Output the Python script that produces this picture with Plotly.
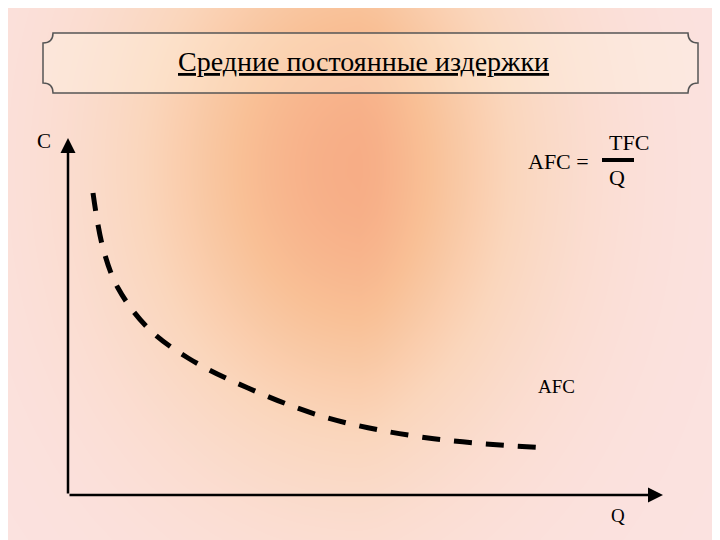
import numpy as np
import plotly.graph_objects as go

# AFC curve (units: pixels from the origin)
q_vals = [25, 35, 50, 80, 120, 180, 260, 360, 480]
afc_vals = [302, 247, 207, 167, 137, 107, 77, 57, 47]

title_text = "Средние постоянные издержки"
serif = "Liberation Serif, DejaVu Serif, serif"

fig = go.Figure()

# warm slide background (decoration only), drawn in pixel frame x/y
gx = np.linspace(0, 720, 40)
gy = np.linspace(0, 540, 30)
X, Y = np.meshgrid(gx, gy)
glow = np.exp(-(((X - 300) / 250) ** 2 + ((Y - 160) / 280) ** 2))
edge = np.minimum(X, 720 - X) / 360
bg = glow * (0.35 + 0.65 * edge)
fig.add_trace(go.Heatmap(
    x=gx, y=gy, z=bg, showscale=False, zsmooth="best", hoverinfo="skip",
    colorscale=[[0, "#fbe2e0"], [0.4, "#fad6bc"], [0.75, "#f9c096"], [1, "#f7ad86"]],
))

# curve in data frame x2/y2
fig.add_trace(go.Scatter(
    x=q_vals, y=afc_vals, mode="lines", line_shape="spline", xaxis="x2", yaxis="y2",
    line=dict(color="black", width=5, dash="18px,14px"), hoverinfo="skip",
))

# title box with notched corners
n = 10
path = (f"M {35+n},25 L {690-n},25 Q {690-n},{25+n} 690,{25+n} L 690,{85-n} "
        f"Q {690-n},{85-n} {690-n},85 L {35+n},85 Q {35+n},{85-n} 35,{85-n} "
        f"L 35,{25+n} Q {35+n},{25+n} {35+n},25 Z")
fig.add_shape(type="path", path=path, xref="x", yref="y",
              line=dict(color="#555", width=1.5), fillcolor="rgba(255,245,230,0.35)")
fig.add_shape(type="line", xref="x", yref="y", x0=594, x1=626, y0=152, y1=152,
              line=dict(color="black", width=4))

anns = [
    dict(x=355, y=53, text="<u>" + title_text + "</u>", size=28),
    dict(x=36, y=133, text="C", size=21),
    dict(x=550, y=153, text="AFC =", size=22),
    dict(x=621, y=134, text="TFC", size=22),
    dict(x=609, y=169, text="Q", size=22),
    dict(x=548, y=378, text="AFC", size=19),
    dict(x=610, y=507, text="Q", size=19),
]
for a in anns:
    fig.add_annotation(x=a["x"], y=a["y"], xref="x", yref="y", text=a["text"],
                       showarrow=False, font=dict(family=serif, size=a["size"], color="black"))

# axes as arrows, in data frame
for (x1, y1) in [(0, 357), (595, 0)]:
    fig.add_annotation(x=x1, y=y1, ax=0, ay=0, xref="x2", yref="y2", axref="x2", ayref="y2",
                       text="", showarrow=True, arrowhead=2, arrowsize=1.2,
                       arrowwidth=2.5, arrowcolor="black")

fig.update_layout(
    width=720, height=540, margin=dict(l=0, r=0, t=0, b=0), showlegend=False,
    paper_bgcolor="#fbe2e0", plot_bgcolor="rgba(0,0,0,0)",
    xaxis=dict(range=[0, 720], visible=False),
    yaxis=dict(range=[540, 0], visible=False),
    xaxis2=dict(range=[-60, 660], visible=False, overlaying="x"),
    yaxis2=dict(range=[-53, 487], visible=False, overlaying="y"),
)
fig.write_html("out.html")
